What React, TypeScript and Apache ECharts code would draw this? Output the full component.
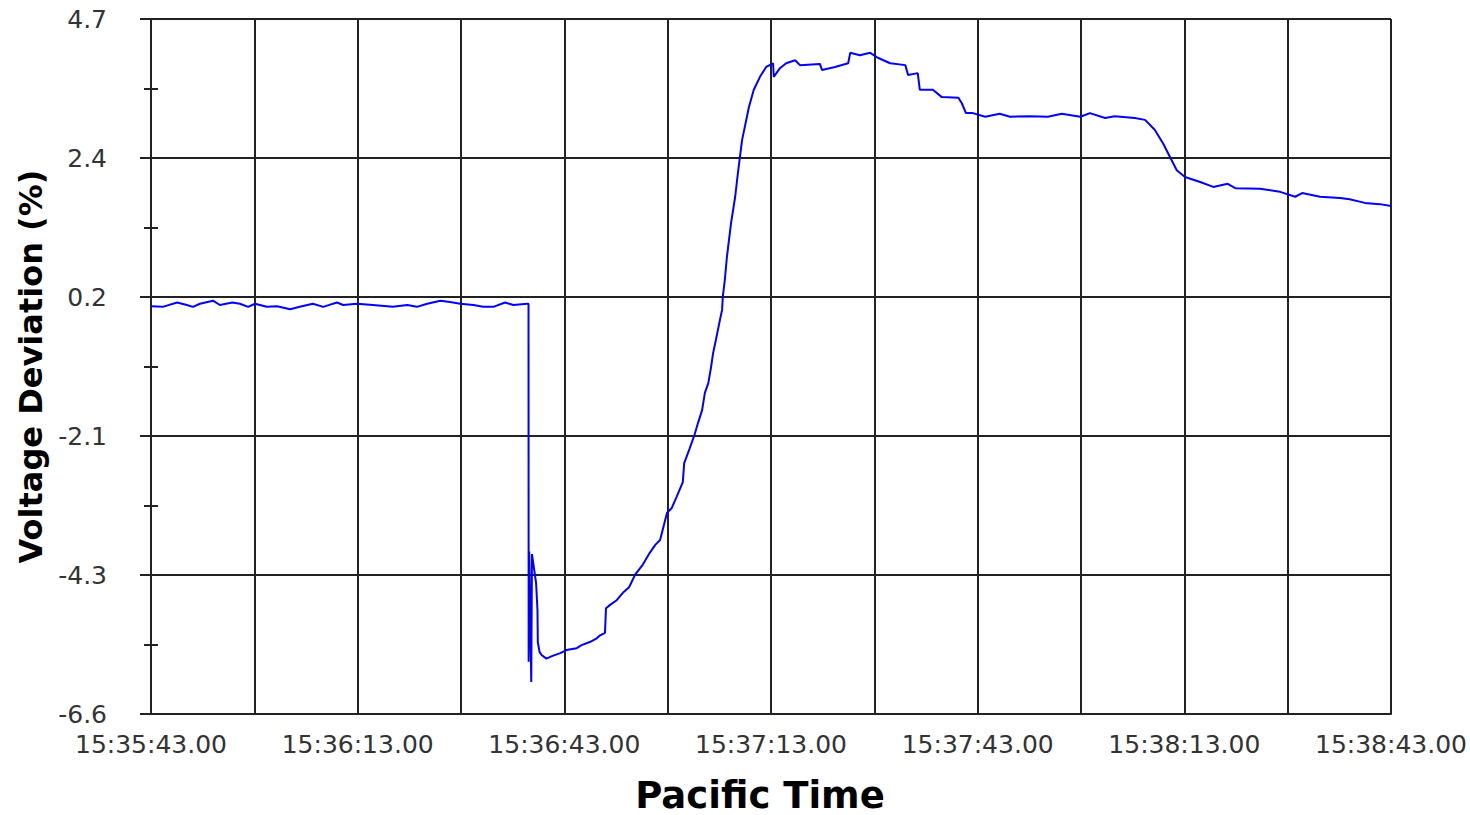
import React, { useEffect, useRef } from "react";
import * as echarts from "echarts";

// Time axis: seconds after 15:35:43.00
const START_H = 15;
const START_M = 35;
const START_S = 43;
const X_MIN = 0;
const X_MAX = 180;
const X_STEP = 15;
const X_LABEL_STEP = 30;

// Y axis range in % (labels -6.6, -4.3, -2.1, 0.2, 2.4, 4.7)
const Y_MIN = -6.6;
const Y_MAX = 4.7;
const Y_STEP = 2.26;

const timeSec = [
  0, 1.7, 3.8, 5.2, 6.1, 7.1, 9.0, 10.0, 11.8, 12.9, 14.1, 15.1, 16.8, 18.3, 20.2, 21.6,
  23.5, 25.0, 27.0, 27.9, 29.9, 32.2, 35.1, 37.2, 38.6, 40.1, 42.0, 43.4, 44.9, 46.8, 48.2,
  49.7, 51.4, 52.6, 54.6, 54.8,
  54.82, 54.9, 55.2, 55.3, 55.9, 56.1, 56.15, 56.4, 56.7, 57.4, 58.2, 59.4, 60.3, 61.8, 62.5,
  63.7, 64.7, 65.2, 65.9, 66.05, 66.6, 67.6, 68.5, 69.4, 70.3, 71.4, 72.4, 73.2, 73.9,
  74.9, 75.6, 76.3, 77.2, 77.4, 78.2, 78.9, 79.4, 80.0, 80.4, 80.9, 81.3, 81.6, 82.0,
  82.5, 82.9, 83.0, 83.3, 83.6, 84.2, 84.8, 85.2, 85.8, 86.8, 87.5, 88.4, 89.3, 90.3,
  90.4, 91.3, 92.2, 93.5, 94.2, 97.1, 97.4, 99.3, 101.2, 101.5, 102.9, 104.4, 105.5,
  107.3, 109.5, 109.9, 111.3, 111.6, 113.5, 114.8, 117.2, 117.7, 118.3, 119.3, 121.1,
  123.2, 124.7, 127.6, 130.2, 132.2, 134.9, 136.3, 138.5, 139.9, 142.8, 144.3, 145.7,
  146.9, 147.9, 148.9, 150.1, 152.3, 154.2, 156.3, 157.4, 161.0, 163.9, 166.1, 167.1,
  169.7, 172.6, 174.0, 176.2, 178.4, 180,
];

const voltageDev = [
  0.03, 0.02, 0.09, 0.05, 0.02, 0.07, 0.12, 0.05, 0.09, 0.07, 0.02, 0.07, 0.02, 0.03, -0.02, 0.02,
  0.07, 0.02, 0.09, 0.05, 0.07, 0.05, 0.02, 0.05, 0.02, 0.07, 0.12, 0.10, 0.07, 0.05, 0.02,
  0.02, 0.09, 0.05, 0.07, 0.07,
  -5.75, -3.96, -6.08, -4.0, -4.47, -4.91, -5.43, -5.59, -5.64, -5.70, -5.66, -5.61, -5.56, -5.53, -5.48,
  -5.43, -5.37, -5.32, -5.28, -4.88, -4.83, -4.75, -4.63, -4.54, -4.33, -4.17, -3.98, -3.85, -3.77,
  -3.33, -3.25, -3.07, -2.83, -2.52, -2.28, -2.06, -1.87, -1.66, -1.38, -1.22, -0.96, -0.73, -0.52,
  -0.24, -0.03, 0.18, 0.46, 0.83, 1.38, 1.81, 2.20, 2.73, 3.27, 3.55, 3.76, 3.92, 3.98,
  3.76, 3.90, 3.98, 4.03, 3.95, 3.97, 3.87, 3.92, 3.98, 4.15, 4.11, 4.15, 4.07,
  3.98, 3.95, 3.79, 3.82, 3.55, 3.55, 3.43, 3.42, 3.33, 3.17, 3.17, 3.11,
  3.16, 3.11, 3.12, 3.11, 3.16, 3.11, 3.17, 3.09, 3.12, 3.09, 3.06, 2.90,
  2.68, 2.46, 2.24, 2.13, 2.05, 1.97, 2.02, 1.95, 1.94, 1.89, 1.81, 1.87,
  1.81, 1.79, 1.77, 1.71, 1.69, 1.66,
];

// y is drawn in hundredths above Y_MIN so the 2.26-step ticks start at the axis minimum
const SCALE = 100;
const toAxis = (v: number) => (v - Y_MIN) * SCALE;
const fromAxis = (u: number) => u / SCALE + Y_MIN;

const pad = (n: number) => (n < 10 ? "0" + n : "" + n);
const timeLabel = (sec: number) => {
  const total = START_H * 3600 + START_M * 60 + START_S + sec;
  const h = Math.floor(total / 3600);
  const m = Math.floor((total % 3600) / 60);
  const s = total % 60;
  return `${pad(h)}:${pad(m)}:${pad(s)}.00`;
};

const GRID_COLOR = "#222222";
const GRID_W = 2;
const LABEL_FONT = "DejaVu Sans";

export default function App() {
  const ref = useRef<HTMLDivElement>(null);

  useEffect(() => {
    if (!ref.current) return;
    const chart = echarts.init(ref.current, undefined, { renderer: "svg" });
    const data = timeSec.map((t, i) => [t, toAxis(voltageDev[i])]);
    const yCommon = {
      type: "value" as const,
      min: 0,
      max: (Y_MAX - Y_MIN) * SCALE,
      interval: Y_STEP * SCALE,
      position: "left" as const,
    };
    chart.setOption({
      animation: false,
      backgroundColor: "#ffffff",
      grid: {
        left: 151,
        right: 79,
        top: 19,
        bottom: 101,
        containLabel: false,
        outerBoundsMode: "none",
      },
      xAxis: {
        type: "value",
        min: X_MIN,
        max: X_MAX,
        interval: X_STEP,
        name: "Pacific Time",
        nameLocation: "middle",
        nameGap: 67,
        nameTextStyle: {
          fontFamily: LABEL_FONT,
          fontWeight: "bold",
          fontSize: 37,
          lineHeight: 28,
          color: "#000",
          padding: [0, 22, 0, 0],
        },
        axisLine: { show: true, lineStyle: { color: GRID_COLOR, width: GRID_W } },
        axisTick: { show: false },
        splitLine: { show: true, lineStyle: { color: GRID_COLOR, width: GRID_W } },
        axisLabel: {
          fontFamily: LABEL_FONT,
          fontSize: 25,
          color: "#333",
          margin: 18,
          formatter: (v: number) => (v % X_LABEL_STEP === 0 ? timeLabel(v) : ""),
        },
      },
      yAxis: [
        {
          ...yCommon,
          name: "Voltage Deviation (%)",
          nameLocation: "middle",
          nameGap: 101,
          nameTextStyle: {
            fontFamily: LABEL_FONT,
            fontWeight: "bold",
            fontSize: 32,
            color: "#000",
          },
          axisLine: { show: true, lineStyle: { color: GRID_COLOR, width: GRID_W } },
          axisTick: { show: true, inside: false, length: 11, lineStyle: { color: GRID_COLOR, width: GRID_W } },
          minorTick: { show: true, splitNumber: 2, length: 7, lineStyle: { color: GRID_COLOR, width: GRID_W } },
          splitLine: { show: true, lineStyle: { color: GRID_COLOR, width: GRID_W } },
          axisLabel: {
            fontFamily: LABEL_FONT,
            fontSize: 25,
            color: "#333",
            margin: 44,
            formatter: (u: number) => fromAxis(u).toFixed(1),
          },
        },
        {
          ...yCommon,
          axisLine: { show: false },
          axisLabel: { show: false },
          splitLine: { show: false },
          axisTick: { show: false, inside: true },
          minorTick: { show: true, splitNumber: 2, length: 7, lineStyle: { color: GRID_COLOR, width: GRID_W } },
        },
      ],
      series: [
        {
          type: "line",
          data,
          yAxisIndex: 0,
          showSymbol: false,
          symbol: "none",
          lineStyle: { color: "#0000ff", width: 2 },
        },
      ],
    });
    return () => chart.dispose();
  }, []);

  return (
    <div
      ref={ref}
      style={{ position: "absolute", left: 0, top: 0, width: 1470, height: 815, background: "#fff" }}
    />
  );
}
